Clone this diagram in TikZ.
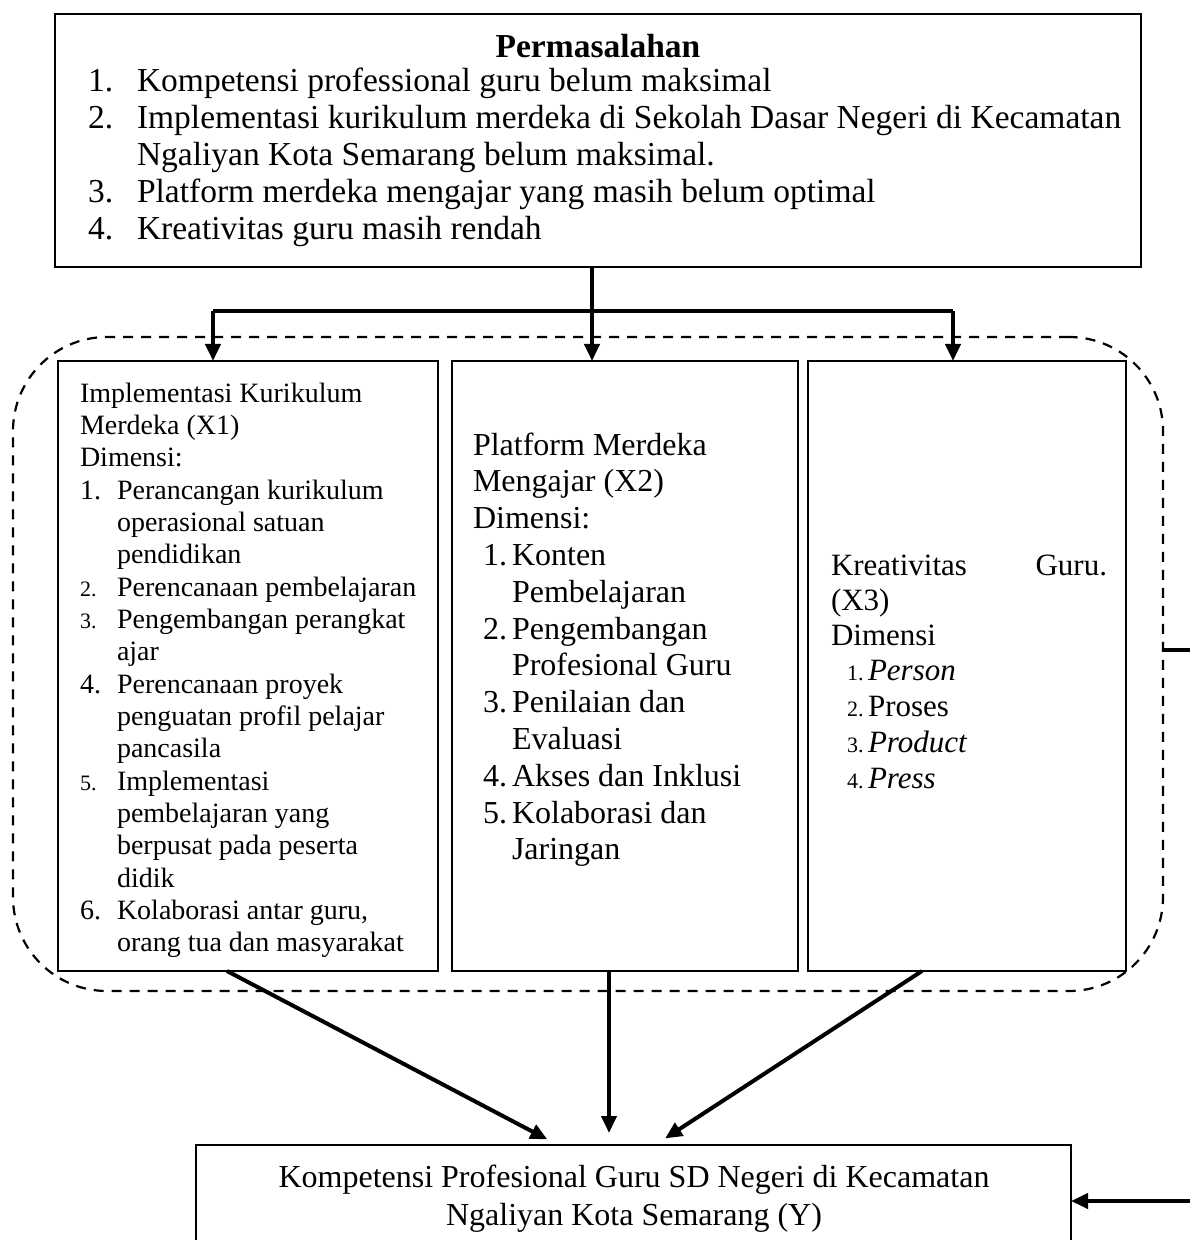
\documentclass[tikz,border=0pt]{standalone}
\usepackage{fontspec}
\setmainfont{Liberation Serif}
\usetikzlibrary{arrows.meta,calc}
\newcommand\fsTop{\fontsize{16.75}{19}\selectfont}
\newcommand\fsA{\fontsize{14}{16}\selectfont}
\newcommand\fsAs{\fontsize{11}{13}\selectfont}
\newcommand\fsB{\fontsize{16}{19}\selectfont}
\newcommand\fsC{\fontsize{15.5}{18}\selectfont}
\newcommand\fsCs{\fontsize{11}{13}\selectfont}
\begin{document}
\begin{tikzpicture}[x=0.5pt,y=-0.5pt,
  box/.style={draw,line width=1.4pt,fill=white,inner sep=0pt,outer sep=0pt},
  grpbox/.style={draw,line width=1.1pt,dash pattern=on 5pt off 4pt,rounded corners=47pt,inner sep=0pt,outer sep=0pt},
  arr/.style={line width=2pt,-{Triangle[length=8.5pt,width=7.5pt]}},
  lnk/.style={line width=2pt},
  tl/.style={anchor=base west,inner sep=0pt,outer sep=0pt},
  tr/.style={anchor=base east,inner sep=0pt,outer sep=0pt},
  tc/.style={anchor=base,inner sep=0pt,outer sep=0pt}]
\useasboundingbox (0,0) rectangle (1189,1240);
\fill[white] (0,0) rectangle (1189,1240);

% group (dashed)
\node[grpbox,minimum width=575pt,minimum height=327pt] (grp) at (588,664) {};

% top box
\node[box,minimum width=543pt,minimum height=126.5pt] (top) at (598,140.5) {};
\node[tc,font=\fsTop\bfseries] (ph) at (598,58) {Permasalahan};
\node[tl,font=\fsTop] (pn1) at (88,92) {1.};
\node[tl,font=\fsTop] (pt1) at (137,92) {Kompetensi professional guru belum maksimal};
\node[tl,font=\fsTop] (pn2) at (88,129) {2.};
\node[tl,font=\fsTop] (pt2) at (137,129) {Implementasi kurikulum merdeka di Sekolah Dasar Negeri di Kecamatan};
\node[tl,font=\fsTop] (pt2b) at (137,166) {Ngaliyan Kota Semarang belum maksimal.};
\node[tl,font=\fsTop] (pn3) at (88,203) {3.};
\node[tl,font=\fsTop] (pt3) at (137,203) {Platform merdeka mengajar yang masih belum optimal};
\node[tl,font=\fsTop] (pn4) at (88,240) {4.};
\node[tl,font=\fsTop] (pt4) at (137,240) {Kreativitas guru masih rendah};

% three boxes
\node[box,minimum width=190pt,minimum height=305pt] (b1) at (248,666) {};
\node[box,minimum width=173pt,minimum height=305pt] (b2) at (625,666) {};
\node[box,minimum width=159pt,minimum height=305pt] (b3) at (967,666) {};

% box 1 text
\node[tl,font=\fsA] (a0) at (80,402) {Implementasi Kurikulum};
\node[tl,font=\fsA] (a1) at (80,434.35) {Merdeka (X1)};
\node[tl,font=\fsA] (a2) at (80,466.7) {Dimensi:};
\node[tl,font=\fsA] (an1) at (80,499.05) {1.};
\node[tl,font=\fsA] (a3) at (117,499.05) {Perancangan kurikulum};
\node[tl,font=\fsA] (a4) at (117,531.4) {operasional satuan};
\node[tl,font=\fsA] (a5) at (117,563.75) {pendidikan};
\node[tl,font=\fsAs] (an2) at (80,596.1) {2.};
\node[tl,font=\fsA] (a6) at (117,596.1) {Perencanaan pembelajaran};
\node[tl,font=\fsAs] (an3) at (80,628.45) {3.};
\node[tl,font=\fsA] (a7) at (117,628.45) {Pengembangan perangkat};
\node[tl,font=\fsA] (a8) at (117,660.8) {ajar};
\node[tl,font=\fsA] (an4) at (80,693.15) {4.};
\node[tl,font=\fsA] (a9) at (117,693.15) {Perencanaan proyek};
\node[tl,font=\fsA] (a10) at (117,725.5) {penguatan profil pelajar};
\node[tl,font=\fsA] (a11) at (117,757.85) {pancasila};
\node[tl,font=\fsAs] (an5) at (80,790.2) {5.};
\node[tl,font=\fsA] (a12) at (117,790.2) {Implementasi};
\node[tl,font=\fsA] (a13) at (117,822.55) {pembelajaran yang};
\node[tl,font=\fsA] (a14) at (117,854.9) {berpusat pada peserta};
\node[tl,font=\fsA] (a15) at (117,887.25) {didik};
\node[tl,font=\fsA] (an6) at (80,919.6) {6.};
\node[tl,font=\fsA] (a16) at (117,919.6) {Kolaborasi antar guru,};
\node[tl,font=\fsA] (a17) at (117,951.95) {orang tua dan masyarakat};

% box 2 text
\node[tl,font=\fsB] (c0) at (473,455) {Platform Merdeka};
\node[tl,font=\fsB] (c1) at (473,491.8) {Mengajar (X2)};
\node[tl,font=\fsB] (c2) at (473,528.6) {Dimensi:};
\node[tl,font=\fsB] (cn1) at (483,565.4) {1.};
\node[tl,font=\fsB] (c3) at (512,565.4) {Konten};
\node[tl,font=\fsB] (c4) at (512,602.2) {Pembelajaran};
\node[tl,font=\fsB] (cn2) at (483,639) {2.};
\node[tl,font=\fsB] (c5) at (512,639) {Pengembangan};
\node[tl,font=\fsB] (c6) at (512,675.8) {Profesional Guru};
\node[tl,font=\fsB] (cn3) at (483,712.6) {3.};
\node[tl,font=\fsB] (c7) at (512,712.6) {Penilaian dan};
\node[tl,font=\fsB] (c8) at (512,749.4) {Evaluasi};
\node[tl,font=\fsB] (cn4) at (483,786.2) {4.};
\node[tl,font=\fsB] (c9) at (512,786.2) {Akses dan Inklusi};
\node[tl,font=\fsB] (cn5) at (483,823) {5.};
\node[tl,font=\fsB] (c10) at (512,823) {Kolaborasi dan};
\node[tl,font=\fsB] (c11) at (512,859.8) {Jaringan};

% box 3 text
\node[tl,font=\fsC] (d0) at (831,575) {Kreativitas};
\node[tr,font=\fsC] (d0b) at (1107,575) {Guru.};
\node[tl,font=\fsC] (d1) at (831,610) {(X3)};
\node[tl,font=\fsC] (d2) at (831,645) {Dimensi};
\node[tl,font=\fsCs] (dn1) at (847,680) {1.};
\node[tl,font=\fsC\itshape] (d3) at (868,680) {Person};
\node[tl,font=\fsCs] (dn2) at (847,716) {2.};
\node[tl,font=\fsC] (d4) at (868,716) {Proses};
\node[tl,font=\fsCs] (dn3) at (847,752) {3.};
\node[tl,font=\fsC\itshape] (d5) at (868,752) {Product};
\node[tl,font=\fsCs] (dn4) at (847,788) {4.};
\node[tl,font=\fsC\itshape] (d6) at (868,788) {Press};

% bottom box
\node[box,minimum width=437.5pt,minimum height=56pt] (bot) at (633.5,1201) {};
\node[tc,font=\fsB] (y1) at (634,1187) {Kompetensi Profesional Guru SD Negeri di Kecamatan};
\node[tc,font=\fsB] (y2) at (634,1225) {Ngaliyan Kota Semarang (Y)};

% distributor
\coordinate (sm) at (592,311);
\coordinate (sl) at (213,311);
\coordinate (sr) at (953,311);
\draw[lnk] (top.south -| sm) -- (sm);
\draw[lnk] (sl) -- (sr);
\draw[arr] (sm) -- (sm |- b2.north);
\draw[arr] (sl) -- (sl |- b1.north);
\draw[arr] (sr) -- (sr |- b3.north);

% to bottom box
\draw[arr,shorten >=6pt] ([xshift=-10.5pt]b1.south) -- ([xshift=-37.75pt]bot.north);
\draw[arr,shorten >=6pt] ([xshift=-8pt]b2.south) -- ([xshift=-12.25pt]bot.north);
\draw[arr,shorten >=6pt] ([xshift=-22.5pt]b3.south) -- ([xshift=10.75pt]bot.north);

% feedback
\coordinate (fbx) at (1210,650);
\draw[arr] ([yshift=7pt]grp.east) -- (fbx) |- (bot.east);
\end{tikzpicture}
\end{document}
